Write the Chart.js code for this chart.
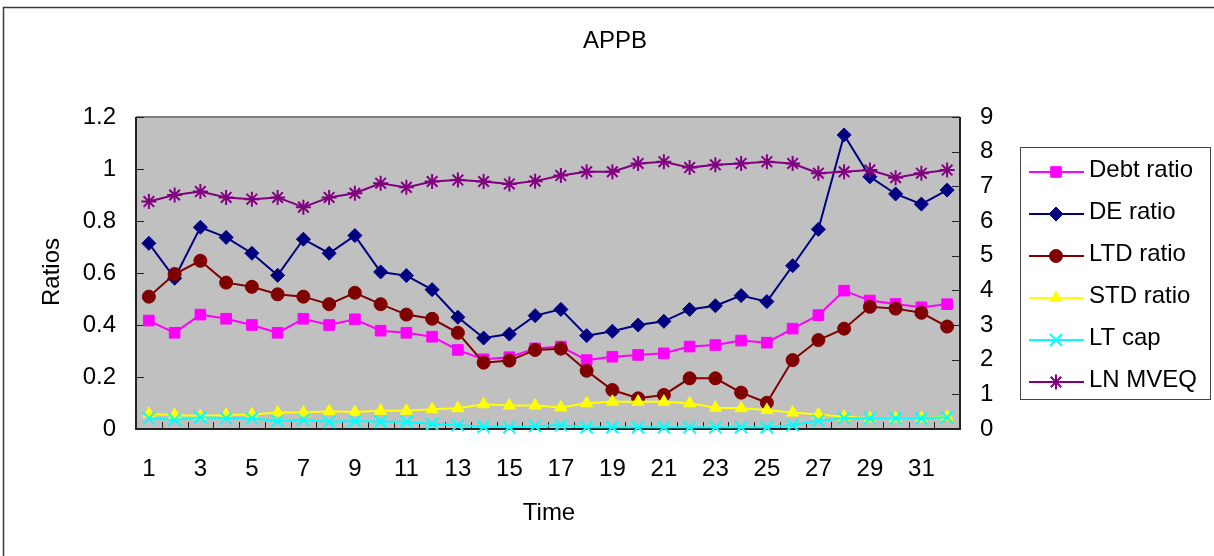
<!DOCTYPE html>
<html>
<head>
<meta charset="utf-8">
<script src="https://cdn.jsdelivr.net/npm/chart.js@4/dist/chart.umd.min.js"></script>
<style>
  html, body { margin: 0; padding: 0; background: #ffffff; }
  #wrap { width: 1214px; height: 556px; position: relative; }
</style>
</head>
<body>
<div id="wrap"><canvas id="c" width="1214" height="556"></canvas></div>
<script>
// Time periods on the category axis
const periods = ["1","2","3","4","5","6","7","8","9","10","11","12","13","14","15","16",
                 "17","18","19","20","21","22","23","24","25","26","27","28","29","30","31","32"];

// Ratios (left axis)
const debtRatio = [0.417,0.370,0.440,0.424,0.400,0.370,0.424,0.400,0.422,0.378,0.370,0.355,0.304,0.268,0.276,0.310,
                   0.317,0.265,0.278,0.285,0.291,0.317,0.323,0.340,0.332,0.386,0.438,0.532,0.494,0.481,0.468,0.480];
const deRatio   = [0.714,0.580,0.776,0.737,0.676,0.591,0.730,0.676,0.744,0.604,0.590,0.536,0.430,0.350,0.365,0.436,
                   0.460,0.359,0.376,0.400,0.414,0.460,0.474,0.513,0.490,0.628,0.768,1.131,0.970,0.904,0.865,0.919];
const ltdRatio  = [0.509,0.596,0.647,0.563,0.547,0.518,0.509,0.480,0.524,0.480,0.440,0.424,0.370,0.255,0.263,0.304,
                   0.309,0.224,0.150,0.118,0.131,0.195,0.195,0.140,0.101,0.265,0.342,0.386,0.470,0.463,0.447,0.394];
const stdRatio  = [0.058,0.054,0.050,0.054,0.056,0.063,0.063,0.068,0.065,0.070,0.070,0.076,0.080,0.095,0.090,0.090,
                   0.083,0.099,0.105,0.105,0.105,0.099,0.082,0.080,0.073,0.063,0.056,0.047,0.041,0.041,0.041,0.047];
const ltCap     = [0.041,0.035,0.045,0.041,0.041,0.031,0.035,0.028,0.031,0.028,0.028,0.019,0.015,0.009,0.007,0.011,
                   0.015,0.007,0.007,0.007,0.007,0.007,0.007,0.007,0.007,0.015,0.032,0.041,0.041,0.041,0.041,0.045];
// Log market value of equity (right axis)
const lnMveq    = [6.56,6.75,6.85,6.68,6.63,6.68,6.40,6.68,6.80,7.09,6.97,7.14,7.18,7.14,7.07,7.15,
                   7.31,7.42,7.42,7.66,7.71,7.54,7.62,7.66,7.71,7.66,7.38,7.42,7.47,7.25,7.38,7.47];

const FONT = '"Liberation Sans", Arial, sans-serif';
const FSIZE = 24;

function series(label, data, color, style, radius, extra) {
  return Object.assign({
    label, data,
    borderColor: color, backgroundColor: color,
    pointBackgroundColor: color, pointBorderColor: color,
    pointStyle: style, pointRadius: radius, pointHoverRadius: radius,
    pointBorderWidth: 1, borderWidth: 2, tension: 0,
    yAxisID: 'y', clip: false
  }, extra || {});
}

const datasets = [
  series('Debt ratio', debtRatio, '#FF00FF', 'rect', 7.5),
  series('DE ratio',   deRatio,   '#000080', 'rectRot', 7),
  series('LTD ratio',  ltdRatio,  '#800000', 'circle', 6.5),
  series('STD ratio',  stdRatio,  '#FFFF00', 'triangle', 7),
  series('LT cap',     ltCap,     '#00FFFF', 'crossRot', 8.5, { pointBorderWidth: 2 }),
  series('LN MVEQ',    lnMveq,    '#800080', 'star', 7.5, { pointBorderWidth: 2, yAxisID: 'y1' })
];
// later series sit on top of earlier ones
datasets.forEach((d, i) => { d.order = datasets.length - i; });

const decorations = {
  id: 'decorations',
  beforeDraw(chart) {
    const { ctx, chartArea: a } = chart;
    ctx.save();
    ctx.fillStyle = '#ffffff';
    ctx.fillRect(0, 0, chart.width, chart.height);
    ctx.fillStyle = '#C0C0C0';
    ctx.fillRect(a.left, a.top, a.right - a.left, a.bottom - a.top);
    // outer chart border
    ctx.strokeStyle = '#3a3a3a';
    ctx.lineWidth = 1.5;
    ctx.strokeRect(3.5, 7.5, chart.width + 20, chart.height + 20);
    ctx.restore();
  },
  beforeDatasetsDraw(chart) {
    const { ctx, chartArea: a, scales } = chart;
    ctx.save();
    // plot frame
    ctx.lineWidth = 2;
    ctx.strokeStyle = '#808080';
    ctx.beginPath(); ctx.moveTo(a.left, a.top); ctx.lineTo(a.right, a.top); ctx.stroke();
    ctx.strokeStyle = '#222222';
    ctx.beginPath();
    ctx.moveTo(a.left, a.top); ctx.lineTo(a.left, a.bottom); ctx.lineTo(a.right, a.bottom); ctx.lineTo(a.right, a.top);
    ctx.stroke();
    // tick marks, pointing into the plot
    ctx.lineWidth = 1;
    ctx.strokeStyle = '#222222';
    ctx.beginPath();
    scales.y.ticks.forEach(t => {
      const y = Math.round(scales.y.getPixelForValue(t.value)) + 0.5;
      ctx.moveTo(a.left, y); ctx.lineTo(a.left + 8, y);
    });
    scales.y1.ticks.forEach(t => {
      const y = Math.round(scales.y1.getPixelForValue(t.value)) + 0.5;
      ctx.moveTo(a.right - 8, y); ctx.lineTo(a.right, y);
    });
    const n = periods.length;
    for (let i = 0; i <= n; i++) {
      const x = Math.round(a.left + i * (a.right - a.left) / n) + 0.5;
      ctx.moveTo(x, a.bottom); ctx.lineTo(x, a.bottom - 7);
    }
    ctx.stroke();
    ctx.restore();
  },
  afterDraw(chart) {
    const { ctx } = chart;
    ctx.save();
    ctx.fillStyle = '#000000';
    ctx.font = FSIZE + 'px ' + FONT;
    ctx.textAlign = 'center';
    ctx.textBaseline = 'middle';
    ctx.fillText('APPB', 615, 41);
    ctx.fillText('Time', 549, 513);
    ctx.save();
    ctx.translate(52, 272);
    ctx.rotate(-Math.PI / 2);
    ctx.fillText('Ratios', 0, 0);
    ctx.restore();

    // legend
    const lx = 1020, ly = 147, lw = 190, lh = 252;
    ctx.fillStyle = '#ffffff';
    ctx.fillRect(lx, ly, lw, lh);
    ctx.strokeStyle = '#444444';
    ctx.lineWidth = 1;
    ctx.strokeRect(lx + 0.5, ly + 0.5, lw, lh);
    ctx.textAlign = 'left';
    datasets.forEach((d, i) => {
      const y = 172 + i * 42;
      ctx.strokeStyle = d.borderColor;
      ctx.lineWidth = 2;
      ctx.beginPath(); ctx.moveTo(1029, y); ctx.lineTo(1084, y); ctx.stroke();
      ctx.fillStyle = d.borderColor;
      ctx.lineWidth = d.pointBorderWidth;
      if (Chart.helpers && Chart.helpers.drawPoint) {
        Chart.helpers.drawPoint(ctx, {
          pointStyle: d.pointStyle, radius: d.pointRadius,
          borderWidth: d.pointBorderWidth, rotation: 0
        }, 1056, y);
      }
      ctx.fillStyle = '#000000';
      ctx.fillText(d.label, 1089, y - 2);
    });
    ctx.restore();
  }
};

const tickFont = { family: FONT, size: FSIZE };

new Chart(document.getElementById('c'), {
  type: 'line',
  data: { labels: periods, datasets },
  options: {
    responsive: false,
    animation: false,
    events: [],
    layout: { padding: { top: 117, left: 0, right: 0, bottom: 0 } },
    plugins: { legend: { display: false }, title: { display: false }, tooltip: { enabled: false } },
    scales: {
      x: {
        type: 'category',
        offset: true,
        grid: { display: false },
        border: { display: false },
        ticks: {
          autoSkip: false, maxRotation: 0, padding: 18,
          color: '#000000', font: tickFont,
          callback: function (v, i) { return i % 2 === 0 ? this.getLabelForValue(v) : ''; }
        },
        afterFit: s => { s.height = 127; }
      },
      y: {
        position: 'left', min: 0, max: 1.2,
        grid: { display: false, drawTicks: false },
        border: { display: false },
        ticks: {
          stepSize: 0.2, padding: 20, color: '#000000', font: tickFont,
          callback: v => String(parseFloat(v.toFixed(2)))
        },
        afterFit: s => { s.width = 136; }
      },
      y1: {
        position: 'right', min: 0, max: 9,
        grid: { display: false, drawTicks: false },
        border: { display: false },
        ticks: { stepSize: 1, padding: 20, color: '#000000', font: tickFont },
        afterFit: s => { s.width = 254; }
      }
    }
  },
  plugins: [decorations]
});
</script>
</body>
</html>
